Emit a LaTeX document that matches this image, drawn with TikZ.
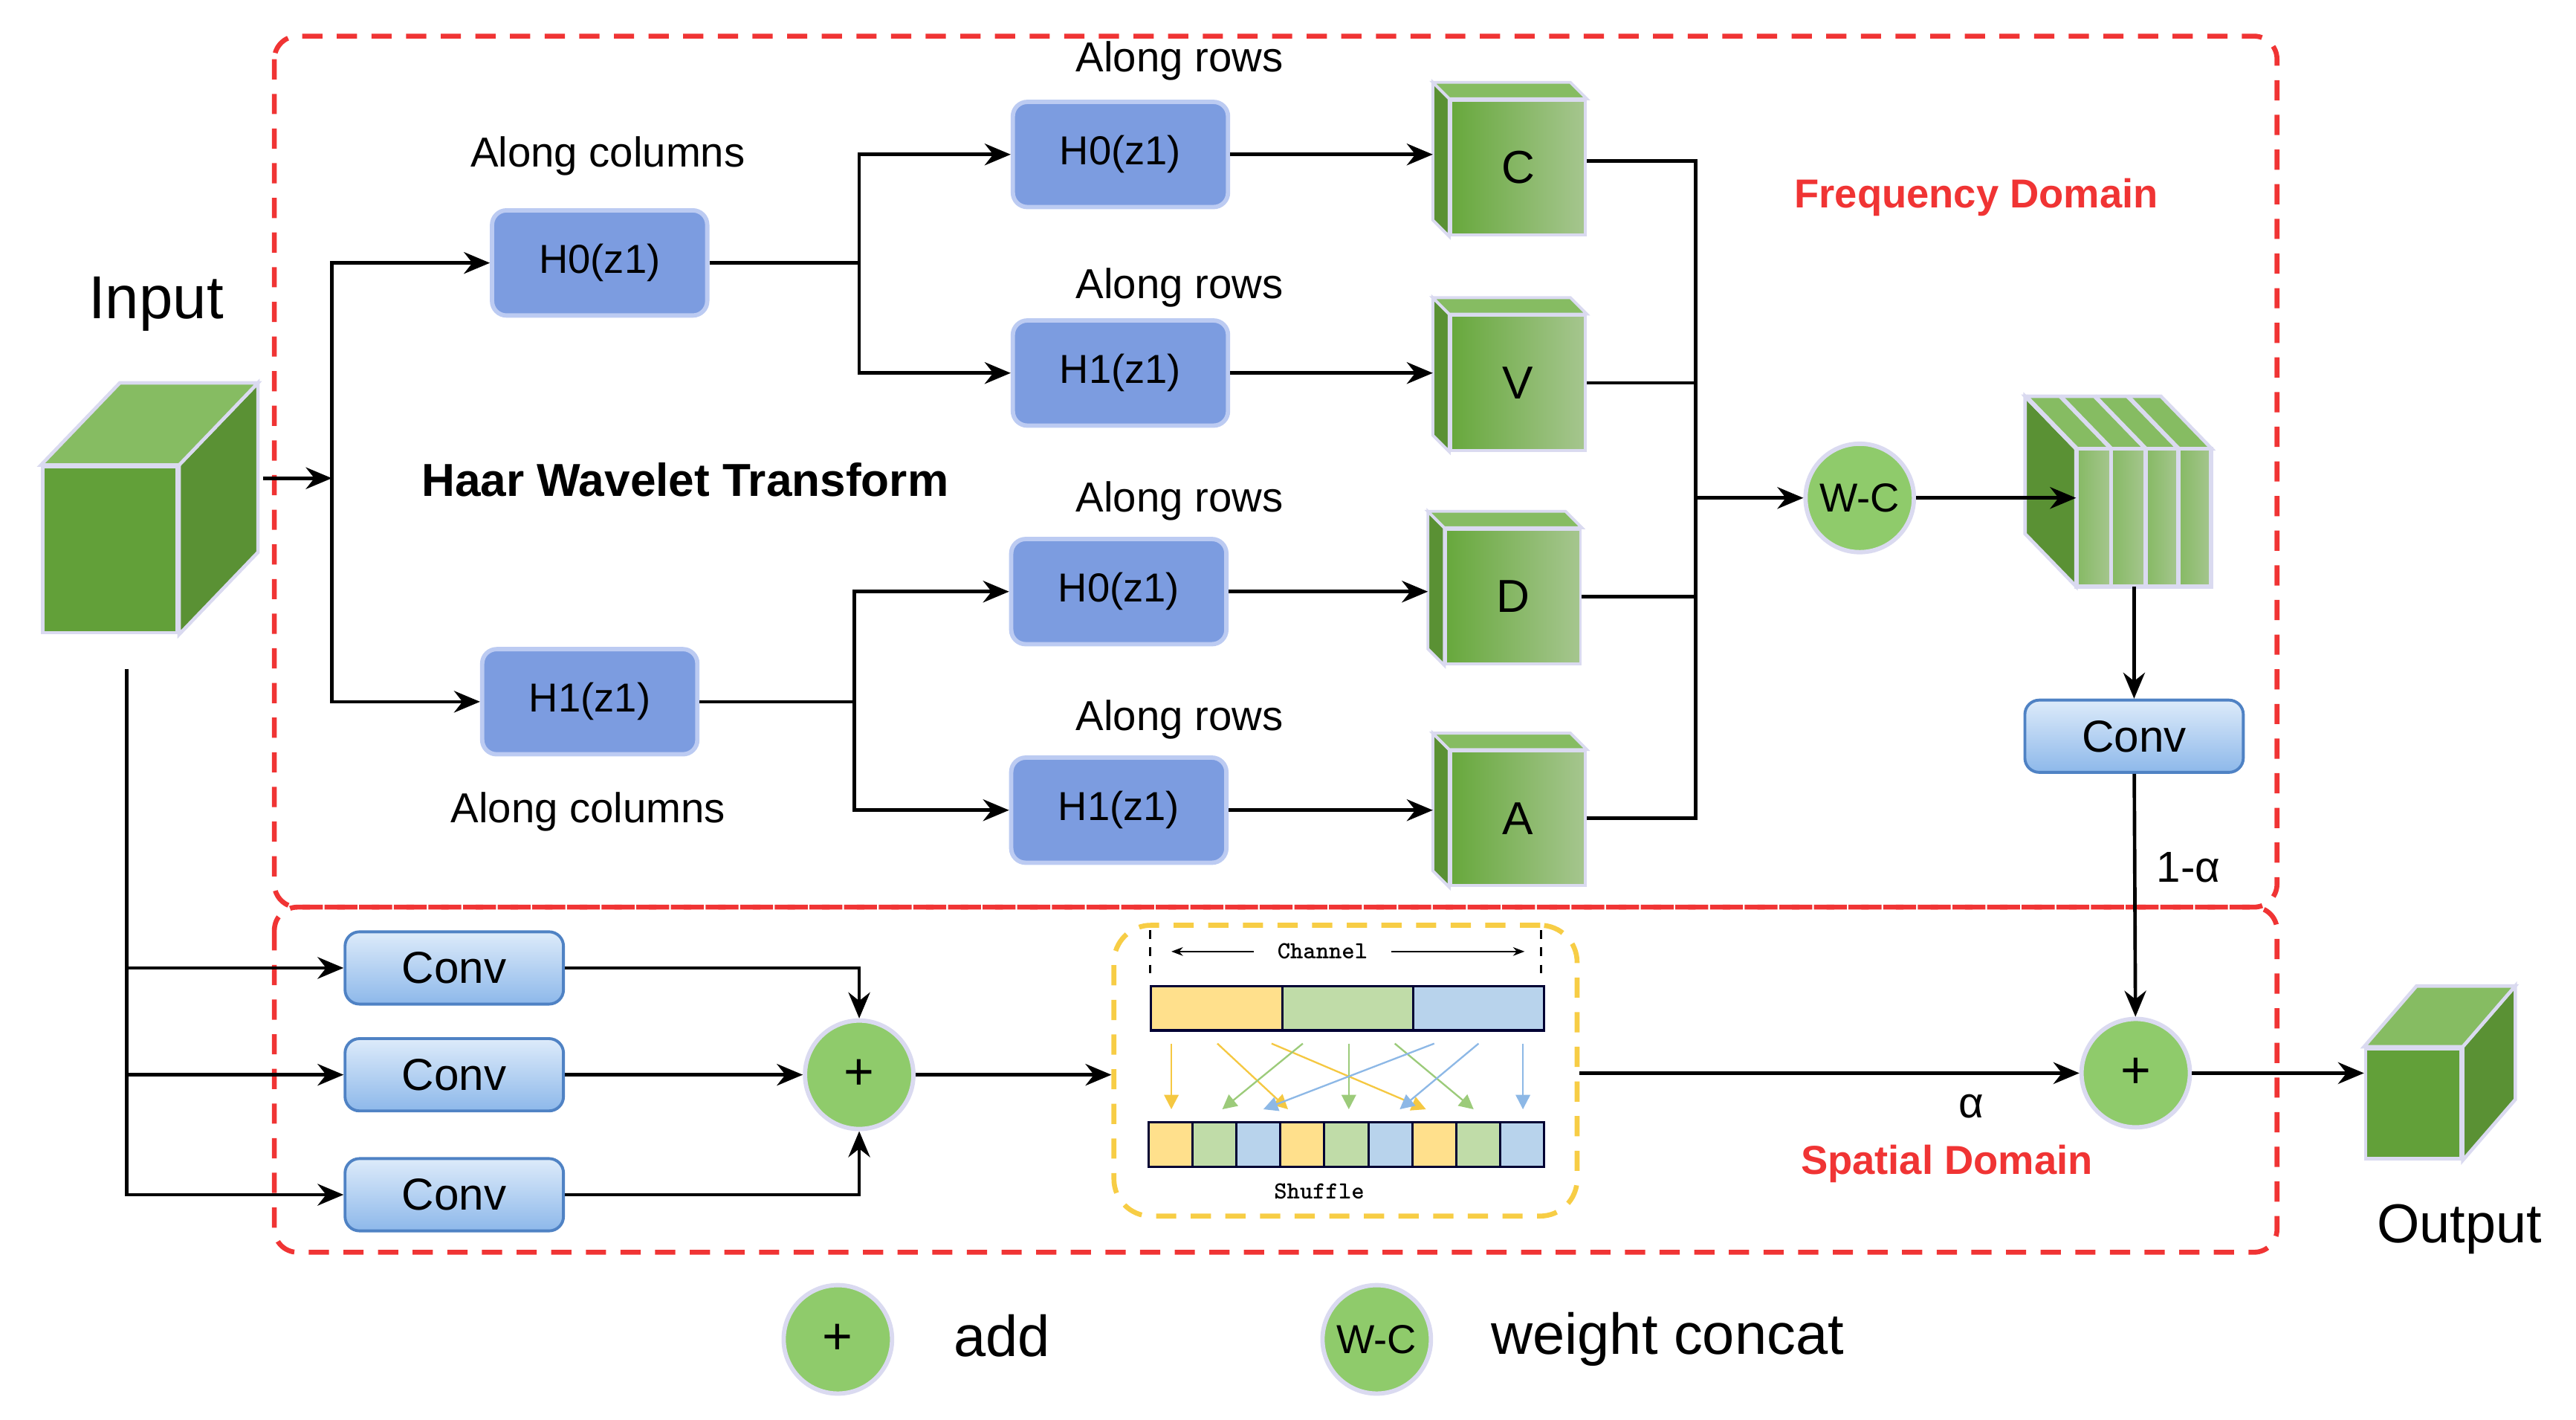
\documentclass[tikz,border=0pt]{standalone}
\usepackage{fontspec}
\setmainfont{Liberation Sans}
\usetikzlibrary{arrows.meta,calc}
\definecolor{hblue}{HTML}{7C9CE0}
\definecolor{hbord}{HTML}{BCCBF2}
\definecolor{ctop}{HTML}{DDEBFA}
\definecolor{cbot}{HTML}{8DB8EA}
\definecolor{cbord}{HTML}{4F82C4}
\definecolor{cgreen}{HTML}{8FCB6B}
\definecolor{gfrontA}{HTML}{67A83C}
\definecolor{gfrontB}{HTML}{A6C68F}
\definecolor{gside}{HTML}{5A9134}
\definecolor{gtop}{HTML}{86BC62}
\definecolor{edge}{HTML}{DADAF0}
\definecolor{fred}{HTML}{F03434}
\definecolor{sy}{HTML}{FFE08C}
\definecolor{sg}{HTML}{C0DCA8}
\definecolor{sb}{HTML}{B8D3EC}
\definecolor{ay}{HTML}{F5C842}
\definecolor{ag}{HTML}{9CCB7A}
\definecolor{ab}{HTML}{8DB8E6}
\definecolor{ybox}{HTML}{F7CD45}
\newcommand\depthL[3]{%
 \filldraw[gside,draw=edge,line width=1pt] (#1.south west) -- (#1.north west) -- ++(#2,#3) -- ($(#1.south west)+(#2,#3)$) -- cycle;
 \filldraw[gtop,draw=edge,line width=1pt] (#1.north west) -- ++(#2,#3) -- ($(#1.north east)+(#2,#3)$) -- (#1.north east) -- cycle;}
\newcommand\depthR[3]{%
 \filldraw[gside,draw=edge,line width=1.2pt] (#1.south east) -- (#1.north east) -- ++(#2,#3) -- ($(#1.south east)+(#2,#3)$) -- cycle;
 \filldraw[gtop,draw=edge,line width=1.2pt] (#1.north west) -- ++(#2,#3) -- ($(#1.north east)+(#2,#3)$) -- (#1.north east) -- cycle;}
\begin{document}
\begin{tikzpicture}[x=0.02cm,y=-0.02cm,
 arr/.style={-{Stealth[length=9pt,width=7.5pt]},line width=1.2pt},
 ln/.style={line width=1.2pt},
 hbox/.style={draw=hbord,line width=1.5pt,fill=hblue,rounded corners=5pt,minimum width=2.62cm,minimum height=1.28cm,font=\fontsize{14}{16}\selectfont},
 conv/.style={draw=cbord,line width=1pt,top color=ctop,bottom color=cbot,rounded corners=5pt,minimum width=2.66cm,minimum height=0.88cm,font=\fontsize{15.5}{18}\selectfont},
 circ/.style={circle,fill=cgreen,draw=edge,line width=1.5pt,minimum size=1.32cm,inner sep=0pt},
 fc/.style={draw=edge,line width=1pt,left color=gfrontA,right color=gfrontB,minimum width=1.64cm,minimum height=1.64cm,inner sep=0pt,font=\fontsize{16}{18}\selectfont},
 lab/.style={font=\fontsize{14.5}{17}\selectfont},
 frame/.style={draw=fred,line width=1.7pt,dash pattern=on 7pt off 5pt,rounded corners=8pt}]
\useasboundingbox (0,0) rectangle (1568,864);
% frames
\draw[frame] (167,22) rectangle (1386,552);
\draw[frame] (167,552) rectangle (1386,762);
% input cube
\node[draw=edge,line width=1.2pt,fill=gfrontA!95!black,minimum width=1.64cm,minimum height=2.02cm] (in) at (67,334.5) {};
\depthR{in}{48}{-50}
\node[font=\fontsize{21}{24}\selectfont] (intxt) at (95,185) {Input};
% first stage boxes
\node[hbox] (H0c) at (365,160) {H0(z1)};
\node[hbox] (H1c) at (359,427) {H1(z1)};
\node[lab] (ac1) at (370,95) {Along columns};
\node[lab] (ac2) at (358,494) {Along columns};
\node[font=\bfseries\fontsize{16}{19}\selectfont] (haar) at (417,292) {Haar Wavelet Transform};
\coordinate (inR) at (160,291);
\coordinate (s) at (202,291);
\draw[arr] (inR) -- (s);
\draw[arr] (s) |- (H0c.west);
\draw[arr] (s) |- (H1c.west);
% row boxes
\node[hbox] (R1) at (682,94) {H0(z1)};
\node[hbox] (R2) at (682,227) {H1(z1)};
\node[hbox] (R3) at (681,360) {H0(z1)};
\node[hbox] (R4) at (681,493) {H1(z1)};
\node[lab] (ar1) at (718,37) {Along rows};
\node[lab] (ar2) at (718,175) {Along rows};
\node[lab] (ar3) at (718,305) {Along rows};
\node[lab] (ar4) at (718,438) {Along rows};
\coordinate (b1) at (523,160);
\coordinate (b2) at (520,427);
\draw[ln] (H0c.east) -- (b1);
\draw[arr] (b1) |- (R1.west);
\draw[arr] (b1) |- (R2.west);
\draw[ln] (H1c.east) -- (b2);
\draw[arr] (b2) |- (R3.west);
\draw[arr] (b2) |- (R4.west);
% cubes
\node[fc] (C) at (924,102) {C};
\node[fc] (V) at (924,233) {V};
\node[fc] (D) at (921,363) {D};
\node[fc] (A) at (924,498) {A};
\depthL{C}{-10}{-10}
\depthL{V}{-10}{-10}
\depthL{D}{-10}{-10}
\depthL{A}{-10}{-10}
\foreach \r/\c in {R1/C,R2/V,R3/D,R4/A}
  \draw[arr,shorten >=0.2cm] (\r.east) -- (\r.east -| \c.west);
\coordinate (j) at (1032,303);
\draw[ln] ([yshift=0.08cm]C.east) -| (j);
\draw[ln] (V.east) -| (j);
\draw[ln] (D.east) -| (j);
\draw[ln] (A.east) -| (j);
\node[circ,font=\fontsize{14}{16}\selectfont] (WC) at (1132,303) {W-C};
\draw[arr] (j) -- (WC);
% stacked cube
\node[inner sep=0pt,minimum width=1.64cm,minimum height=1.66cm] (S) at (1305,315) {};
\filldraw[gside,draw=edge,line width=1.2pt] (S.south west) -- (S.north west) -- ++(-31,-32) -- ($(S.south west)+(-31,-32)$) -- cycle;
\filldraw[gtop,draw=edge,line width=1.2pt] (S.north west) -- ++(-31,-32) -- ($(S.north east)+(-31,-32)$) -- (S.north east) -- cycle;
\foreach \a/\b in {1264/1285,1285/1306,1306/1326,1326/1346}{
  \filldraw[left color=gfrontA!80!white,right color=gfrontB,draw=edge,line width=1.5pt] (\a,273) rectangle (\b,357);
  \draw[edge,line width=1.5pt] (\a,273) -- ++(-31,-32);}
\node[font=\fontsize{15}{18}\selectfont] (fd) at (1203,120) {};
\node[text=fred,font=\bfseries\fontsize{14}{17}\selectfont] (freq) at (1203,120) {Frequency Domain};
\draw[arr] (WC) -- (S.west |- WC);
\node[conv] (C0) at (1299,448) {Conv};
\draw[arr] (S.south -| C0) -- (C0.north);
\node[circ,font=\fontsize{18}{20}\selectfont] (P2) at (1300,653) {+};
\draw[arr] (C0) -- (P2);
\node[lab,font=\fontsize{15}{18}\selectfont] (oma) at (1332,528) {1-α};
% spatial branch
\node[conv] (K1) at (276.5,589) {Conv};
\node[conv] (K2) at (276.5,654) {Conv};
\node[conv] (K3) at (276.5,727) {Conv};
\coordinate (t0) at (77,407);
\coordinate (t1) at (77,589);
\coordinate (t2) at (77,654);
\draw[arr] (t0) |- (K3.west);
\draw[arr] (t1) -- (K1.west);
\draw[arr] (t2) -- (K2.west);
\node[circ,font=\fontsize{18}{20}\selectfont] (P1) at (523,654) {+};
\draw[arr] (K1.east) -| (P1.north);
\draw[arr] (K2.east) -- (P1.west);
\draw[arr] (K3.east) -| (P1.south);
% shuffle
\node[draw=ybox,line width=1.7pt,dash pattern=on 7pt off 5pt,rounded corners=0.45cm,minimum width=5.64cm,minimum height=3.54cm] (SB) at (819,651.5) {};
\draw[arr] (P1.east) -- (P1 -| SB.west);
\draw[dashed,line width=0.6pt] (700,566) -- (700,592) (938,566) -- (938,592);
\node[font=\bfseries\ttfamily\fontsize{8.5}{10}\selectfont] (ch) at (805,579) {Channel};
\draw[-{Stealth[length=4pt]},line width=0.5pt] (ch.west) ++(-8,0) -- (713,579);
\draw[-{Stealth[length=4pt]},line width=0.5pt] (ch.east) ++(8,0) -- (928,579);
\filldraw[fill=sy,draw=black!80!blue,line width=0.8pt] (700.7,600) rectangle (780.5,627);
\filldraw[fill=sg,draw=black!80!blue,line width=0.8pt] (780.5,600) rectangle (860.3,627);
\filldraw[fill=sb,draw=black!80!blue,line width=0.8pt] (860.3,600) rectangle (940,627);
\foreach \i/\c in {0/sy,1/sg,2/sb,3/sy,4/sg,5/sb,6/sy,7/sg,8/sb}
  \filldraw[fill=\c,draw=black!80!blue,line width=0.8pt] ({699+\i*26.78},683) rectangle ({699+(\i+1)*26.78},710);
\foreach \s/\t/\c in {713/713/ay,741/784/ay,774/868/ay,793/744/ag,821/821/ag,849/897/ag,873/769/ab,900/852/ab,927/927/ab}
  \draw[\c,line width=0.6pt,-{Triangle[length=5pt,width=5pt]}] (\s,635) -- (\t,675);
\node[font=\bfseries\ttfamily\fontsize{8.5}{10}\selectfont] (sh) at (803,725) {Shuffle};
\draw[arr] (SB.east |- P2) -- (P2.west);
\node[font=\fontsize{15}{18}\selectfont] (al) at (1200,673) {α};
\node[text=fred,font=\bfseries\fontsize{14}{17}\selectfont] (spat) at (1185,708) {Spatial Domain};
% output cube
\node[draw=edge,line width=1.2pt,fill=gfrontA!95!black,minimum width=1.16cm,minimum height=1.34cm] (out) at (1469,671.5) {};
\depthR{out}{32}{-37}
\draw[arr] (P2.east) -- (P2 -| out.west);
\node[font=\fontsize{19}{22}\selectfont] (outtxt) at (1497,748) {Output};
% legend
\node[circ,font=\fontsize{18}{20}\selectfont] (L1) at (510,815) {+};
\node[font=\fontsize{20}{23}\selectfont] (L1t) at (610,813) {add};
\node[circ,font=\fontsize{14}{16}\selectfont] (L2) at (838,815) {W-C};
\node[font=\fontsize{20}{23}\selectfont] (L2t) at (1015,815) {weight concat};
\end{tikzpicture}
\end{document}
